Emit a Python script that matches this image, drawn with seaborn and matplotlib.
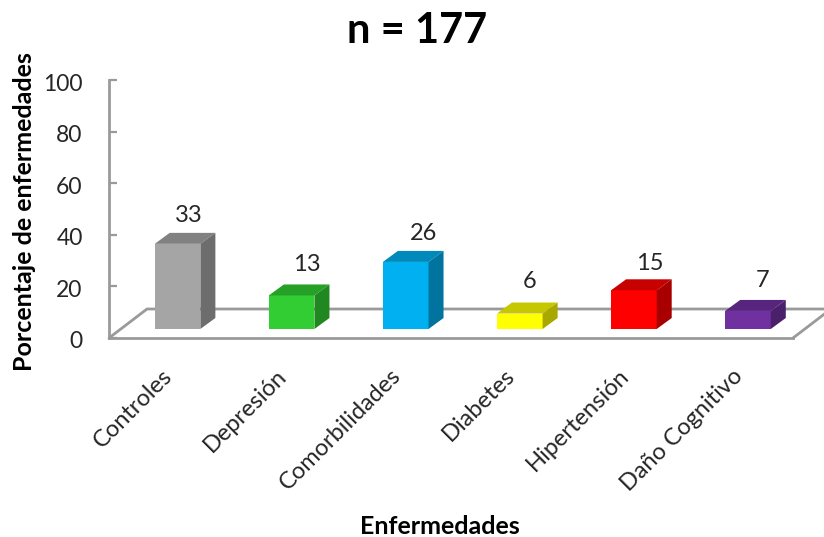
import matplotlib
matplotlib.use('Agg')
import matplotlib.pyplot as plt
from matplotlib.colors import to_rgb
from matplotlib.patches import Polygon
from matplotlib.transforms import ScaledTranslation
import numpy as np
import seaborn as sns

categories = ['Controles', 'Depresión', 'Comorbilidades', 'Diabetes', 'Hipertensión', 'Daño Cognitivo']
values = [33, 13, 26, 6, 15, 7]
bar_colors = ['#a5a5a5', '#32cd32', '#00b0f0', '#ffff00', '#ff0000', '#7030a0']
y_ticks = [0, 20, 40, 60, 80, 100]
# label nudges from the bar centre, in pixels
label_dx = [11, 15, 18, 10, 16, 15]
label_dy = [28, 31, 28, 32, 27, 30]

W, H = 824, 537
GRAY = '#9a9a9a'
TEXT = '#262626'

sns.set_style('white')
plt.rcParams['font.family'] = ['Lato', 'DejaVu Sans']

fig = plt.figure(figsize=(W / 100, H / 100), dpi=100)


def rect(x0, x1, y_top, y_bottom):
    return [x0 / W, 1 - y_bottom / H, (x1 - x0) / W, (y_bottom - y_top) / H]


# back axes: the y axis and the floor
ax = fig.add_axes(rect(109, 793, 80, 338))
ax.set_xlim(0, 1)
ax.set_ylim(0, 100)
ax.patch.set_alpha(0)
sns.despine(ax=ax, right=True, top=True)
for side in ['left', 'bottom']:
    ax.spines[side].set_color(GRAY)
    ax.spines[side].set_linewidth(2)
ax.set_xticks([])
ax.set_yticks(y_ticks)
ax.tick_params(axis='y', direction='in', length=6, width=1.6, color=GRAY,
               labelsize=16.5, labelcolor=TEXT, pad=19, left=True)
for label in ax.get_yticklabels():
    label.set_transform(label.get_transform() + ScaledTranslation(0, -2 / 100, fig.dpi_scale_trans))

floor_dx = 38 / 684
floor_dy = 29 / 2.58
ax.plot([0, floor_dx, 1 + floor_dx, 1], [0, floor_dy, floor_dy, 0], color=GRAY, lw=2, clip_on=False)

# bars sit on the middle of the floor, so their axes are shifted
bar_ax = fig.add_axes(rect(120.5, 805, 71, 329))
bar_ax.patch.set_alpha(0)
sns.barplot(x=categories, y=values, hue=categories, palette=bar_colors, legend=False,
            width=0.4, saturation=1, linewidth=0, ax=bar_ax)
bar_ax.set_xlim(-0.5, 5.5)
bar_ax.set_ylim(0, 100)
bar_ax.set_yticks([])
bar_ax.set_ylabel('')
sns.despine(ax=bar_ax, left=True, bottom=True)
bar_ax.tick_params(axis='x', length=0, pad=26)
plt.setp(bar_ax.get_xticklabels(), rotation=45, ha='right', rotation_mode='anchor',
         fontsize=17, color=TEXT)
for label in bar_ax.get_xticklabels():
    label.set_transform(label.get_transform() + ScaledTranslation(-16 / 100, 0, fig.dpi_scale_trans))

# depth of the boxes
dx = 15 / 114
dy = 11 / 2.58
for i, bar in enumerate(bar_ax.patches):
    x0, x1 = bar.get_x(), bar.get_x() + bar.get_width()
    top = bar.get_height()
    base = np.array(to_rgb(bar_colors[i]))
    bar_ax.add_patch(Polygon([(x0, top), (x0 + dx, top + dy), (x1 + dx, top + dy), (x1, top)],
                             facecolor=base * 0.78, edgecolor='none', clip_on=False))
    bar_ax.add_patch(Polygon([(x1, 0), (x1 + dx, dy), (x1 + dx, top + dy), (x1, top)],
                             facecolor=base * 0.66, edgecolor='none', clip_on=False))
    bar_ax.annotate(str(values[i]), ((x0 + x1) / 2, top), xytext=(label_dx[i], label_dy[i]),
                    textcoords='offset pixels', ha='center', va='center',
                    fontsize=17, color=TEXT)

fig.text(417 / W, 1 - 31 / H, 'n = 177', ha='center', va='center',
         fontsize=30, fontweight='bold', color='black')
fig.text(440 / W, 1 - 526 / H, 'Enfermedades', ha='center', va='center',
         fontsize=18, fontweight='bold', color='black')
fig.text(25 / W, 1 - 212 / H, 'Porcentaje de enfermedades', ha='center', va='center',
         rotation=90, fontsize=18, fontweight='bold', color='black')

fig.savefig('out.png', dpi=100)
